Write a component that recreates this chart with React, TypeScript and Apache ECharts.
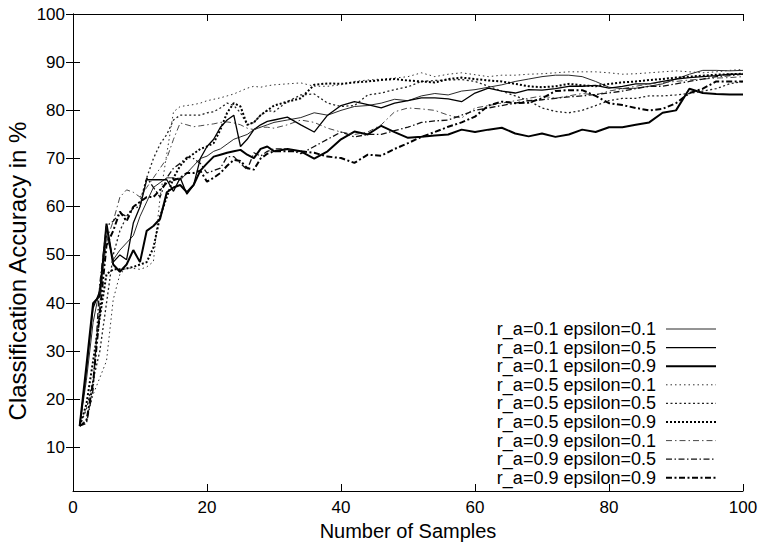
import { useEffect, useRef } from "react";
import * as echarts from "echarts";

const X = [
  1, 2, 3, 4, 5, 6, 7, 8, 9, 10, 11, 12, 13, 14, 15, 16, 17, 18, 19, 20, 21, 22, 23, 24, 25, 26, 27, 28, 29, 30,
  32, 34, 36, 38, 40, 42, 44, 46, 48, 50, 52, 54, 56, 58, 60, 62, 64, 66, 68, 70, 72, 74, 76, 78, 80, 82, 84, 86, 88, 90, 92, 94, 96, 98, 100,
];

const LABELS = [
  "r_a=0.1 epsilon=0.1",
  "r_a=0.1 epsilon=0.5",
  "r_a=0.1 epsilon=0.9",
  "r_a=0.5 epsilon=0.1",
  "r_a=0.5 epsilon=0.5",
  "r_a=0.5 epsilon=0.9",
  "r_a=0.9 epsilon=0.1",
  "r_a=0.9 epsilon=0.5",
  "r_a=0.9 epsilon=0.9",
];

const S1 = [
  14.5, 24, 36, 43, 54, 49, 51, 52.5, 54, 58, 61, 64, 65, 66, 66, 65.5, 67, 68.5, 70, 70.5, 71.5, 72, 73, 74, 74.5, 75, 76, 76.5, 77, 77.5,
  78, 78.5, 79.5, 79, 80, 80.8, 81, 81.5, 82.3, 82, 83, 83.5, 83.2, 84, 84.3, 84.8, 85.3, 86, 86.5, 87, 87.3, 87.3, 87, 86, 84.8, 84.5, 84.6, 85, 85.5, 86.5, 87.5, 88.3, 88.3, 88.2, 88.3,
];
const S2 = [
  14.5, 26, 39, 42.5, 56, 48.5, 50, 49, 56.6, 60, 65.6, 65.6, 65.6, 65.6, 63.2, 66, 62.6, 64.5, 70, 72.5, 74, 76.5, 78, 79, 72.5, 74, 76, 77, 77.7, 78,
  78.6, 77, 75.5, 79, 81, 81.8, 81.2, 80.5, 81.5, 82, 82.6, 82.6, 82.4, 81.8, 83.6, 84.6, 84, 83.6, 84.3, 84.2, 84.5, 85, 85, 85.2, 84.6, 85, 85.5, 85.5, 86, 86.5, 86.8, 87, 87.2, 87.5, 87.5,
];
const S3 = [
  14.5, 27, 40, 41.5, 56.5, 48, 46.5, 48, 51, 48.5, 55, 56, 57.5, 63, 64, 64.5, 63, 64.5, 67.5, 69, 70.4, 70.8, 71.2, 71.5, 71.8, 70.8, 70.1, 72, 72.5, 71.5,
  72, 71.5, 70, 71.5, 74, 75.6, 75, 76.8, 75.5, 74.3, 74.5, 74.8, 75, 76, 75.5, 76, 76.4, 75.2, 74.6, 75.2, 74.5, 75, 76, 75.5, 76.5, 76.5, 77, 77.5, 79.5, 80, 84.5, 83.6, 83.4, 83.3, 83.3,
];
const S4 = [
  14.5, 16, 21, 24.5, 28, 40.7, 46, 47.3, 47.2, 47, 47.5, 48.6, 62, 71, 79.7, 80.8, 81, 81.2, 81.5, 82, 82.3, 82.6, 83, 83.4, 84, 84.6, 85, 84.8, 85.1, 85.3,
  85.5, 85.7, 85, 85, 85.3, 86, 86.3, 86.5, 86.7, 87, 87.8, 87, 87.5, 87.8, 87.4, 87, 87.3, 87.3, 87.5, 87.6, 87.8, 88, 88, 88, 87.8, 87.5, 87.6, 87.8, 88, 88.2, 88, 87.8, 88, 88.3, 88.5,
];
const S5 = [
  14.5, 18, 24, 30, 40, 50, 55, 58, 60, 61, 66, 70, 73, 75, 78, 79, 79, 79, 79, 79.5, 79.7, 80.5, 81.5, 81, 79.5, 77, 77.5, 79, 80, 79.7,
  81.8, 83.2, 83.4, 81.5, 80.8, 81, 83.2, 83.6, 84.3, 84.9, 86, 86.2, 86.3, 86.4, 86, 85, 84, 83, 82, 80.5, 79.8, 79.5, 80, 81, 82, 82.5, 82.5, 83, 83, 83.2, 83.5, 84, 84.5, 85.5, 86,
];
const S6 = [
  14.5, 19, 28, 37, 46, 47, 47, 47.2, 47.5, 48, 48.5, 51.5, 58, 62, 66, 68.5, 70, 71, 72, 72.5, 73.2, 76, 79.5, 81.5, 80.8, 77, 77.5, 79, 80, 81,
  81.8, 82.5, 85.3, 85.6, 85.5, 85.8, 86, 86.3, 86.5, 86.2, 86, 85.8, 86.5, 86.8, 86.5, 86.2, 86, 85.5, 85, 84.8, 85, 85.5, 85.2, 85, 85.5, 85.8, 86, 86.3, 86.5, 86.8, 87, 87.2, 87.4, 87.5, 87.6,
];
const S7 = [
  14.5, 15.5, 24, 40, 53, 57, 62, 63.5, 63, 62, 64, 66, 68, 70, 74, 77.4, 77, 76.6, 76.8, 77, 77.2, 77.5, 77.6, 77.4, 77, 76.3, 76, 76.5, 76.5, 76.3,
  77, 78, 77.5, 76.3, 75.5, 75, 75.5, 77, 79.7, 80.5, 80.3, 80, 79, 78.4, 80.5, 81, 81.5, 82, 82.5, 83, 82.5, 83, 83.5, 83.2, 84, 84.5, 85, 85.5, 85.8, 86, 86.3, 86.5, 86.7, 86.8, 87,
];
const S8 = [
  14.5, 15, 22, 44, 56, 57, 58.7, 58, 59.7, 60, 66, 64, 62, 66, 68, 69, 70.3, 70, 69, 67, 67.5, 68, 70.4, 70.4, 69, 67.7, 71.2, 70.5, 71.5, 72,
  72, 71, 72.5, 74, 75.5, 74.5, 75, 75, 75.8, 76.5, 77.5, 77.8, 78, 79, 80, 80.5, 81, 81.5, 82, 82.2, 82.5, 82.8, 83, 83.3, 83.6, 84, 84.5, 85, 85, 85.5, 86, 86.5, 87, 87.2, 87.5,
];
const S9 = [
  14.5, 15.5, 23.5, 38, 52, 55, 59, 57, 60, 61, 62, 62, 63.5, 65, 65.5, 66, 67, 67, 67.5, 65.2, 66, 67, 68.5, 69.7, 69.5, 68, 67.7, 70, 71, 71.5,
  71.5, 71.5, 71.2, 70.4, 70.1, 69.1, 70.8, 70.6, 72, 73.2, 74.5, 75.5, 76.6, 77.5, 78.7, 81, 81.8, 81.5, 81.6, 82.5, 84, 84.2, 84.2, 83, 81.5, 81.1, 80.5, 80, 80.3, 81.5, 83.6, 84.5, 86, 86, 86,
];

const SERIES = [S1, S2, S3, S4, S5, S6, S7, S8, S9];
const Y_TICKS = [10, 20, 30, 40, 50, 60, 70, 80, 90, 100];
const X_TITLE = "Number of Samples";
const Y_TITLE = "Classification Accuracy in %";

const STYLES: { width: number; type: any; color: string }[] = [
  { width: 0.9, type: "solid", color: "#111" },
  { width: 1.3, type: "solid", color: "#000" },
  { width: 2, type: "solid", color: "#000" },
  { width: 1, type: [1.5, 3], color: "#333" },
  { width: 1.3, type: [2, 2.5], color: "#222" },
  { width: 2, type: [2, 2], color: "#000" },
  { width: 0.9, type: [6, 3, 1.5, 3], color: "#333" },
  { width: 1.3, type: [6, 2.5, 1.5, 2.5], color: "#111" },
  { width: 2, type: [6, 2.5, 2, 2.5], color: "#000" },
];

const FONT = "'Liberation Sans', Arial, Helvetica, sans-serif";

export default function App() {
  const ref = useRef<HTMLDivElement>(null);
  useEffect(() => {
    const chart = echarts.init(ref.current!, null, { renderer: "svg" });
    const axisLine = { show: true, lineStyle: { color: "#000", width: 1 } };
    chart.setOption({
      animation: false,
      backgroundColor: "#fff",
      grid: { left: 73, right: 18, top: 14, bottom: 54 },
      legend: {
        orient: "vertical",
        right: 39,
        top: 315,
        align: "right",
        itemWidth: 50,
        itemHeight: 10,
        itemGap: 0.6,
        selectedMode: false,
        itemStyle: { opacity: 0 },
        textStyle: { fontFamily: FONT, fontSize: 18, lineHeight: 17, color: "#000", padding: [0, 5, 0, 0] },
        data: LABELS.map((name, k) => ({
          name,
          lineStyle: { width: STYLES[k].width, type: STYLES[k].type, color: STYLES[k].color },
        })),
      },
      graphic: [
        {
          type: "text",
          x: 17,
          y: 271,
          rotation: Math.PI / 2,
          style: {
            text: Y_TITLE,
            font: `24px ${FONT}`,
            fill: "#000",
            align: "center",
            verticalAlign: "middle",
          },
        },
      ],
      xAxis: [
        {
          type: "value",
          min: 0,
          max: 100,
          interval: 20,
          name: X_TITLE,
          nameLocation: "middle",
          nameGap: 30,
          nameTextStyle: { fontFamily: FONT, fontSize: 20, color: "#000" },
          axisLine,
          axisTick: { inside: true, length: 7, lineStyle: { color: "#000" } },
          axisLabel: { fontFamily: FONT, fontSize: 17, color: "#000", margin: 8 },
          splitLine: { show: false },
        },
        {
          type: "value",
          position: "top",
          min: 0,
          max: 100,
          interval: 20,
          axisLine,
          axisTick: { inside: true, length: 7, lineStyle: { color: "#000" } },
          axisLabel: { show: false },
          splitLine: { show: false },
        },
      ],
      yAxis: [
        {
          type: "value",
          min: 1,
          max: 100,
          axisLine,
          axisTick: { inside: true, length: 7, lineStyle: { color: "#000" }, customValues: Y_TICKS },
          axisLabel: { fontFamily: FONT, fontSize: 17, color: "#000", margin: 8, customValues: Y_TICKS },
          splitLine: { show: false },
        },
        {
          type: "value",
          position: "right",
          min: 1,
          max: 100,
          axisLine,
          axisTick: { inside: true, length: 7, lineStyle: { color: "#000" }, customValues: Y_TICKS },
          axisLabel: { show: false, customValues: Y_TICKS },
          splitLine: { show: false },
        },
      ],
      series: SERIES.map((s, k) => ({
        type: "line",
        name: LABELS[k],
        xAxisIndex: 0,
        yAxisIndex: 0,
        symbol: "none",
        data: X.map((x, i) => [x, s[i]]),
        lineStyle: { color: STYLES[k].color, width: STYLES[k].width, type: STYLES[k].type },
        itemStyle: { color: STYLES[k].color },
        emphasis: { disabled: true },
      })),
    });
    return () => chart.dispose();
  }, []);
  return <div ref={ref} style={{ position: "fixed", left: 0, top: 0, width: 761, height: 546 }} />;
}
